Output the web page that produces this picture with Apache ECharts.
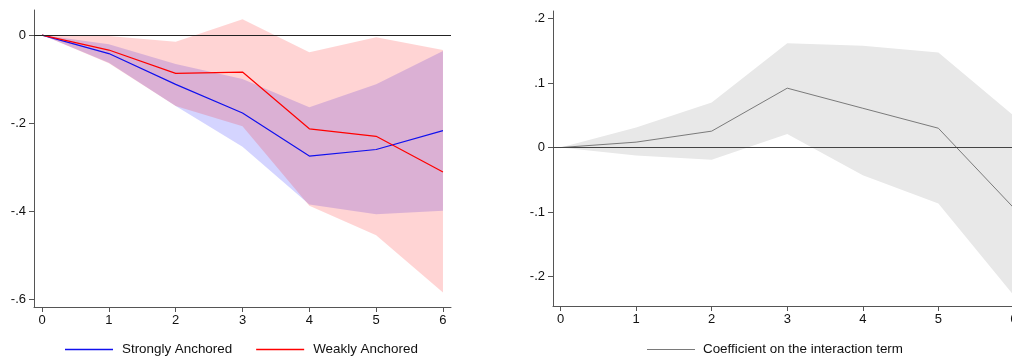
<!DOCTYPE html>
<html>
<head>
<meta charset="utf-8">
<script src="https://cdn.jsdelivr.net/npm/echarts@6/dist/echarts.min.js"></script>
<style>
html,body{margin:0;padding:0;background:#fff;}
#c{width:1012px;height:358px;}
</style>
</head>
<body>
<div id="c"></div>
<script>
// ---- data ----
var horizons = [0, 1, 2, 3, 4, 5, 6];
var xTicks = [0, 1, 2, 3, 4, 5, 6];
var leftYTicks = [-0.6, -0.4, -0.2, 0];
var rightYTicks = [-0.2, -0.1, 0, 0.1, 0.2];

var strongIRF   = [0, -0.042, -0.112, -0.177, -0.275, -0.260, -0.217];
var strongUpper = [0, -0.021, -0.066, -0.100, -0.164, -0.112, -0.036];
var strongLower = [0, -0.063, -0.161, -0.254, -0.385, -0.407, -0.399];

var weakIRF   = [0, -0.034, -0.087, -0.084, -0.213, -0.230, -0.311];
var weakUpper = [0, -0.002, -0.015, 0.036, -0.039, -0.005, -0.034];
var weakLower = [0, -0.064, -0.161, -0.207, -0.388, -0.455, -0.585];

var interCoef  = [0, 0.0084, 0.0255, 0.0922, 0.061, 0.030, -0.094];
var interUpper = [0, 0.031, 0.070, 0.162, 0.158, 0.1475, 0.049];
var interLower = [0, -0.0124, -0.019, 0.021, -0.043, -0.087, -0.230];

// ---- helpers ----
function pairs(xs, ys) { return xs.map(function (x, i) { return [x, ys[i]]; }); }
function fmt(v) {
  if (Math.abs(v) < 1e-9) return '0';
  return v.toFixed(1).replace(/^(-?)0\./, '$1.');
}
var FONT = "'Liberation Sans', Arial, sans-serif";

function bandSeries(idx, lower, upper, color) {
  var data = horizons.map(function (x, i) { return [x, lower[i], upper[i]]; });
  return {
    type: 'custom', xAxisIndex: idx, yAxisIndex: idx, silent: true, z: 1,
    data: data,
    encode: { x: 0, y: [1, 2] },
    renderItem: function (params, api) {
      if (params.dataIndex !== 0) return null;
      var pts = [];
      var i;
      for (i = 0; i < data.length; i++) pts.push(api.coord([data[i][0], data[i][2]]));
      for (i = data.length - 1; i >= 0; i--) pts.push(api.coord([data[i][0], data[i][1]]));
      return { type: 'polygon', shape: { points: pts }, style: { fill: color, stroke: null } };
    }
  };
}

function xAxisCfg(idx, min, max) {
  return {
    type: 'value', gridIndex: idx, min: min, max: max,
    splitLine: { show: false },
    axisLine: { show: true, onZero: false, lineStyle: { color: '#555', width: 1 } },
    axisTick: { show: true, length: 5, customValues: xTicks, lineStyle: { color: '#555' } },
    axisLabel: { customValues: xTicks, color: '#111', fontSize: 13, fontFamily: FONT, margin: 7,
      formatter: function (v) { return String(Math.round(v)); } }
  };
}
function yAxisCfg(idx, min, max, ticks) {
  return {
    type: 'value', gridIndex: idx, min: min, max: max,
    splitLine: { show: false },
    axisLine: { show: true, onZero: false, lineStyle: { color: '#555', width: 1 } },
    axisTick: { show: true, length: 5, customValues: ticks, lineStyle: { color: '#555' } },
    axisLabel: { customValues: ticks, color: '#111', fontSize: 13, fontFamily: FONT, margin: 8,
      formatter: function (v) { return fmt(v); } }
  };
}

var series = [
  bandSeries(0, strongLower, strongUpper, 'rgba(0,0,255,0.17)'),
  bandSeries(0, weakLower, weakUpper, 'rgba(255,0,0,0.17)'),
  bandSeries(1, interLower, interUpper, '#e8e8e8'),
  {
    name: 'Strongly Anchored', type: 'line', xAxisIndex: 0, yAxisIndex: 0,
    data: pairs(horizons, strongIRF), symbol: 'none', color: '#1010ee',
    lineStyle: { color: '#1010ee', width: 1.2 }, z: 3,
    markLine: { silent: true, symbol: ['none', 'none'], label: { show: false },
      lineStyle: { color: '#222', width: 1, type: 'solid' }, data: [{ yAxis: 0 }] }
  },
  {
    name: 'Weakly Anchored', type: 'line', xAxisIndex: 0, yAxisIndex: 0,
    data: pairs(horizons, weakIRF), symbol: 'none', color: '#ff0000',
    lineStyle: { color: '#ff0000', width: 1.2 }, z: 4
  },
  {
    name: 'Coefficient on the interaction term', type: 'line', xAxisIndex: 1, yAxisIndex: 1,
    data: pairs(horizons, interCoef), symbol: 'none', color: '#7a7a7a',
    lineStyle: { color: '#7a7a7a', width: 1 }, z: 3,
    markLine: { silent: true, symbol: ['none', 'none'], label: { show: false },
      lineStyle: { color: '#444', width: 1.2, type: 'solid' }, data: [{ yAxis: 0 }] }
  }
];

var option = {
  animation: false,
  backgroundColor: '#fff',
  textStyle: { fontFamily: FONT },
  grid: [
    { left: 34, top: 10, width: 417, height: 297, outerBoundsMode: 'none', containLabel: false },
    { left: 553, top: 11, width: 470, height: 295, outerBoundsMode: 'none', containLabel: false }
  ],
  xAxis: [xAxisCfg(0, -0.12, 6.12), xAxisCfg(1, -0.10, 6.12)],
  yAxis: [yAxisCfg(0, -0.618, 0.057, leftYTicks), yAxisCfg(1, -0.246, 0.212, rightYTicks)],
  legend: [
    {
      data: ['Strongly Anchored', 'Weakly Anchored'], left: 65, top: 343, padding: 0,
      icon: 'rect', itemWidth: 48, itemHeight: 1.5, itemGap: 24,
      textStyle: { fontSize: 13.4, color: '#111', fontFamily: FONT, padding: [0, 0, 0, 4] },
      selectedMode: false
    },
    {
      data: ['Coefficient on the interaction term'], left: 647, top: 343, padding: 0,
      icon: 'rect', itemWidth: 48, itemHeight: 1.2, itemGap: 24,
      textStyle: { fontSize: 13.4, color: '#111', fontFamily: FONT, padding: [0, 0, 0, 3] },
      selectedMode: false
    }
  ],
  series: series
};

var chart = echarts.init(document.getElementById('c'), null, { renderer: 'canvas' });
chart.setOption(option);
</script>
</body>
</html>
